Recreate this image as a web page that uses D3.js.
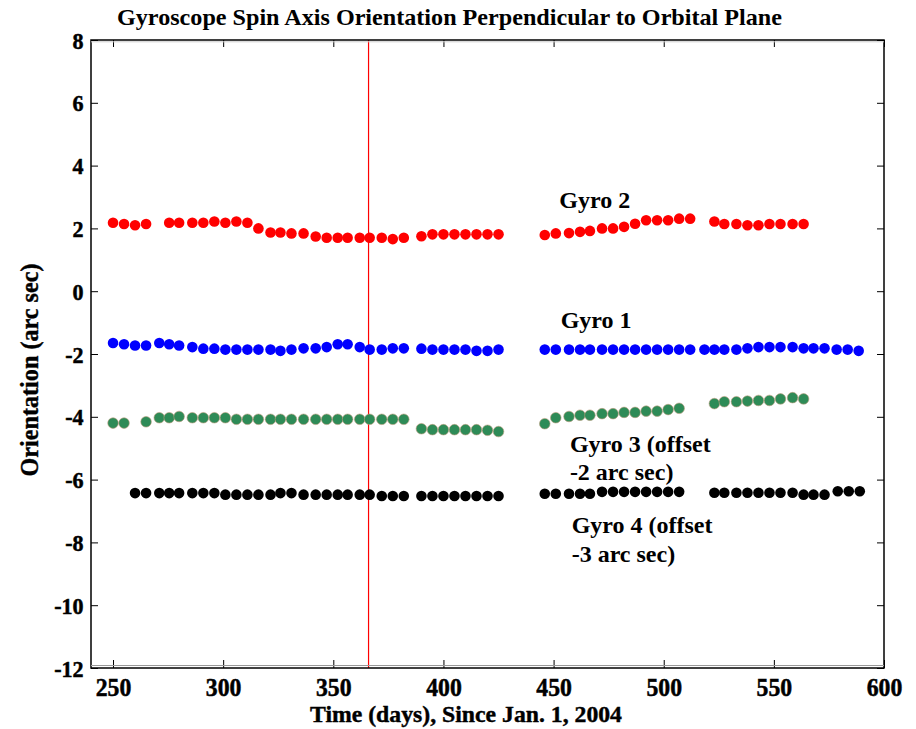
<!DOCTYPE html>
<html><head><meta charset="utf-8">
<script src="https://cdn.jsdelivr.net/npm/d3@7"></script>
<style>
body{margin:0;background:#fff}
text{font-family:"Liberation Serif","Times New Roman",serif;font-weight:bold;fill:#000}
</style>
</head><body>
<svg id="c" width="916" height="729"></svg>
<script>
// ---- data ----
const xTicks = [250, 300, 350, 400, 450, 500, 550, 600];
const yTicks = [-12, -10, -8, -6, -4, -2, 0, 2, 4, 6, 8];
const markerDay = 366;

const gyro2Days = [250,255,260,265, 275.5,280,286,291,296,301,306,311,316,321.5,326,331,336.5,342,347,352,356.5,362,366.5,372,377,382,
  390,395,400,405,410,415,420,425,
  446,451,457,462,466.5,472,477,482,487,492,497,502,507,512,
  523,527.5,533,538,543,548,553,558.5,563.5];
const gyro2Vals = [2.18,2.14,2.10,2.14, 2.18,2.18,2.18,2.18,2.22,2.18,2.22,2.18,2.00,1.87,1.87,1.84,1.84,1.74,1.70,1.70,1.70,1.70,1.70,1.70,1.66,1.70,
  1.75,1.81,1.81,1.81,1.81,1.81,1.81,1.81,
  1.79,1.84,1.85,1.89,1.92,2.00,2.00,2.05,2.15,2.26,2.26,2.26,2.31,2.31,
  2.22,2.14,2.14,2.10,2.10,2.14,2.14,2.14,2.14];

const gyro1Days = [250,255,260,265,271,275.5,280,286,291,296,301,306,311,316,321.5,326,331,336.5,342,347,352,356.5,362,366.5,372,377,382,
  390,395,400,405,410,415,420,425,
  446,451,457,462,466.5,472,477,482,487,492,497,502,507,512,518.5,523,527.5,533,538,543,548,553,558.5,563.5,568,573,578.5,583.5,588.5];
const gyro1Vals = [-1.65,-1.69,-1.73,-1.73,-1.65,-1.69,-1.73,-1.78,-1.83,-1.83,-1.86,-1.86,-1.86,-1.86,-1.86,-1.90,-1.86,-1.82,-1.82,-1.78,-1.69,-1.69,-1.78,-1.86,-1.86,-1.82,-1.82,
  -1.83,-1.86,-1.86,-1.86,-1.86,-1.90,-1.90,-1.86,
  -1.86,-1.86,-1.86,-1.86,-1.86,-1.86,-1.86,-1.86,-1.86,-1.86,-1.86,-1.86,-1.86,-1.86,-1.86,-1.86,-1.86,-1.86,-1.82,-1.78,-1.78,-1.78,-1.78,-1.82,-1.82,-1.82,-1.86,-1.86,-1.90];

const gyro3Days = [250,255, 265,271,275.5,280,286,291,296,301,306,311,316,321.5,326,331,336.5,342,347,352,356.5,362,366.5,372,377,382,
  390,395,400,405,410,415,420,425,
  446,451,457,462,466.5,472,477,482,487,492,497,502,507,
  523,527.5,533,538,543,548,553,558.5,563.5];
const gyro3Vals = [-4.20,-4.20, -4.16,-4.03,-4.03,-3.99,-4.03,-4.03,-4.03,-4.03,-4.08,-4.08,-4.08,-4.08,-4.08,-4.08,-4.08,-4.08,-4.08,-4.08,-4.08,-4.08,-4.08,-4.08,-4.08,-4.08,
  -4.38,-4.41,-4.41,-4.41,-4.41,-4.41,-4.43,-4.47,
  -4.22,-4.03,-3.99,-3.95,-3.95,-3.90,-3.90,-3.86,-3.86,-3.82,-3.82,-3.77,-3.73,
  -3.58,-3.52,-3.52,-3.50,-3.48,-3.48,-3.43,-3.39,-3.43];

const gyro4Days = [260,265,271,275.5,280,286,291,296,301,306,311,316,321.5,326,331,336.5,342,347,352,356.5,362,366.5,372,377,382,
  390,395,400,405,410,415,420,425,
  446,451,457,462,466.5,472,477,482,487,492,497,502,507,
  523,527.5,533,538,543,548,553,558.5,563.5,568,573,579,584,589];
const gyro4Vals = [-6.43,-6.43,-6.43,-6.43,-6.43,-6.43,-6.43,-6.43,-6.48,-6.48,-6.48,-6.48,-6.48,-6.43,-6.43,-6.48,-6.48,-6.48,-6.48,-6.48,-6.48,-6.48,-6.52,-6.52,-6.52,
  -6.52,-6.52,-6.52,-6.52,-6.52,-6.52,-6.52,-6.52,
  -6.45,-6.45,-6.45,-6.45,-6.45,-6.39,-6.39,-6.39,-6.39,-6.39,-6.39,-6.39,-6.39,
  -6.42,-6.42,-6.42,-6.42,-6.42,-6.42,-6.42,-6.42,-6.48,-6.48,-6.48,-6.37,-6.37,-6.37];

const seriesNames = ["Gyro 2", "Gyro 1", "Gyro 3", "Gyro 4"];
const seriesColors = ["#ff0000", "#0000ff", "#2e8b57", "#000000"];

// annotation anchors in data units (day, arc sec)
const annotations = [
  {lines: ["Gyro 2"], day: 452.6, val: 2.64},
  {lines: ["Gyro 1"], day: 453.2, val: -1.18},
  {lines: ["Gyro 3 (offset", "-2 arc sec)"], day: 457.4, val: -5.11},
  {lines: ["Gyro 4 (offset", "-3 arc sec)"], day: 458.2, val: -7.71}
];

// ---- chart ----
const FONT = '"Liberation Serif","Times New Roman",serif';
const svg = d3.select("#c");
const L = 91, R = 884, T = 40, B = 668;
const x = d3.scaleLinear().domain([240, 600]).range([L, R]);
const y = d3.scaleLinear().domain([-12, 8]).range([B, T]);
const fmt = d => String(d);   // plain hyphen minus, as in the reference

const series = [
  {days: gyro2Days, vals: gyro2Vals},
  {days: gyro1Days, vals: gyro1Vals},
  {days: gyro3Days, vals: gyro3Vals},
  {days: gyro4Days, vals: gyro4Vals}
];

// title
svg.append("text").attr("x", 117).attr("y", 25)
  .attr("font-size", 24).attr("textLength", 665).attr("lengthAdjust", "spacingAndGlyphs")
  .text("Gyroscope Spin Axis Orientation Perpendicular to Orbital Plane");

// marker line
svg.append("line").attr("x1", x(markerDay)).attr("x2", x(markerDay))
  .attr("y1", T).attr("y2", B).attr("stroke", "#ff0000").attr("stroke-width", 1.2);

// points
series.forEach((s, i) => {
  svg.append("g").attr("class", "series").selectAll("circle")
    .data(s.days.map((d, j) => [d, s.vals[j]]))
    .join("circle")
    .attr("cx", d => x(d[0])).attr("cy", d => y(d[1])).attr("r", 5.3)
    .attr("fill", seriesColors[i])
    .attr("stroke", i === 2 ? "#b89a7a" : "none")
    .attr("stroke-width", i === 2 ? 0.6 : 0);
});

// axes (ticks inside)
function styleAxis(g) {
  g.attr("font-family", null).attr("font-size", null);
  g.select(".domain").remove();
  g.selectAll(".tick line").attr("stroke", "#000").attr("stroke-width", 1);
}
const xb = svg.append("g").attr("transform", `translate(0,${B})`)
  .call(d3.axisBottom(x).tickValues(xTicks).tickSizeInner(-8).tickSizeOuter(0).tickPadding(0).tickFormat(fmt))
  .call(styleAxis);
xb.selectAll(".tick text").attr("y", 28).attr("dy", null)
  .style("font-family", FONT).style("font-weight", "bold").style("font-size", "25px")
  .attr("fill", "#000").attr("stroke", "#000").attr("stroke-width", 0.5)
  .attr("transform", "scale(0.95,1)");

svg.append("g").attr("transform", `translate(0,${T})`)
  .call(d3.axisTop(x).tickValues(xTicks).tickSizeInner(-7).tickSizeOuter(0).tickFormat(""))
  .call(styleAxis);

const yl = svg.append("g").attr("transform", `translate(${L},0)`)
  .call(d3.axisLeft(y).tickValues(yTicks).tickSizeInner(-7).tickSizeOuter(0).tickPadding(8).tickFormat(fmt))
  .call(styleAxis);
yl.selectAll(".tick text").attr("dy", "0.34em")
  .style("font-family", FONT).style("font-weight", "bold").style("font-size", "24px")
  .attr("fill", "#000").attr("stroke", "#000").attr("stroke-width", 0.5)
  .attr("transform", "scale(0.92,1)");

svg.append("g").attr("transform", `translate(${R},0)`)
  .call(d3.axisRight(y).tickValues(yTicks).tickSizeInner(-7).tickSizeOuter(0).tickFormat(""))
  .call(styleAxis);

// frame
svg.append("rect").attr("x", L).attr("y", T).attr("width", R - L).attr("height", B - T)
  .attr("fill", "none").attr("stroke", "#000").attr("stroke-width", 1.5);
svg.append("line").attr("x1", L).attr("x2", R).attr("y1", B - 2.5).attr("y2", B - 2.5)
  .attr("stroke", "#999").attr("stroke-width", 1);
svg.append("line").attr("x1", L).attr("x2", R).attr("y1", T + 1.8).attr("y2", T + 1.8)
  .attr("stroke", "#ccc").attr("stroke-width", 1);

// axis titles
svg.append("text").attr("x", 310).attr("y", 722)
  .attr("font-size", 23).attr("textLength", 312).attr("lengthAdjust", "spacingAndGlyphs")
  .attr("stroke", "#000").attr("stroke-width", 0.4)
  .text("Time (days), Since Jan. 1, 2004");
svg.append("text").attr("transform", "translate(38,370) rotate(-90)")
  .attr("text-anchor", "middle").attr("font-size", 25)
  .attr("textLength", 213).attr("lengthAdjust", "spacingAndGlyphs")
  .attr("stroke", "#000").attr("stroke-width", 0.4)
  .text("Orientation (arc sec)");

// annotations
annotations.forEach(a => {
  a.lines.forEach((ln, k) => {
    svg.append("text").attr("x", x(a.day)).attr("y", y(a.val) + k * 28.5)
      .attr("font-size", 24).text(ln);
  });
});
</script>
</body></html>
